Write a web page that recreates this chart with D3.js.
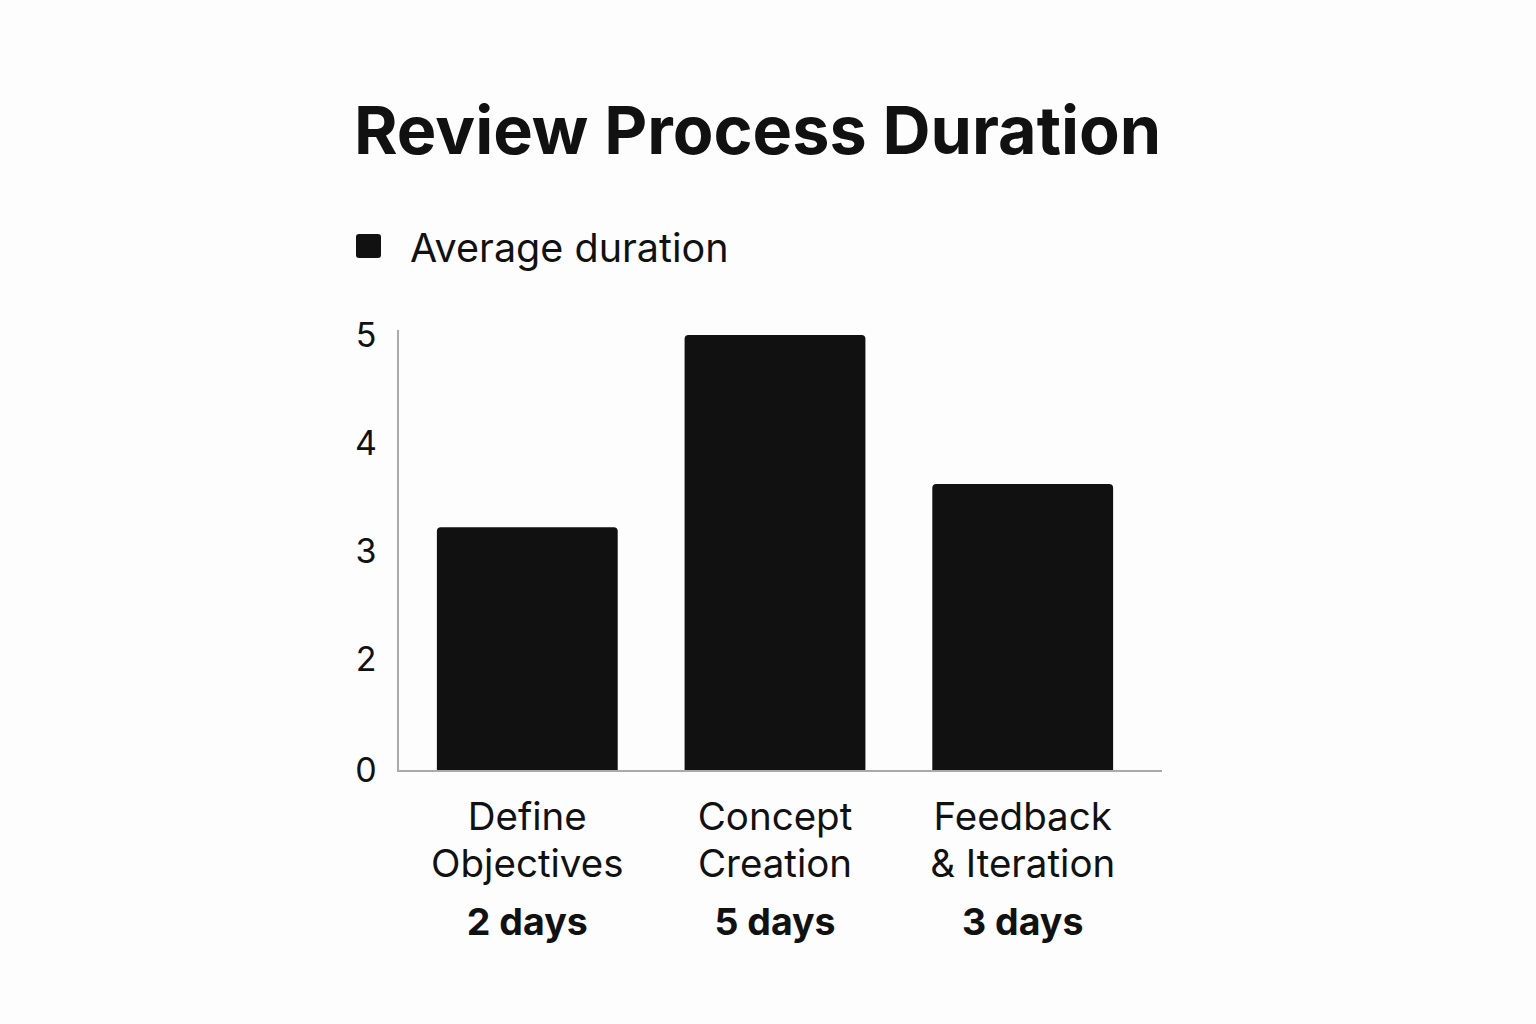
<!DOCTYPE html>
<html><head><meta charset="utf-8">
<script src="https://cdn.jsdelivr.net/npm/d3@7"></script>
<style>body{margin:0;background:#fdfdfd}svg{font-family:Inter,"Noto Sans",sans-serif}</style>
</head><body><svg id="c" width="1536" height="1024"></svg>
<script>
const categories = [["Define","Objectives"],["Concept","Creation"],["Feedback","& Iteration"]];
const values = [3.22, 5, 3.62];
const dayLabels = ["2 days","5 days","3 days"];
const tickValues = [0,2,3,4,5];

const svg = d3.select("#c");
svg.append("rect").attr("width",1536).attr("height",1024).attr("fill","#fdfdfd");
svg.append("text").attr("x",354).attr("y",154).attr("font-size",66.5).attr("font-weight",700)
  .attr("fill","#111").text("Review Process Duration");
svg.append("rect").attr("x",356).attr("y",234).attr("width",25).attr("height",24).attr("rx",3).attr("fill","#111");
svg.append("text").attr("x",410).attr("y",262).attr("font-size",39.5).attr("fill","#111").text("Average duration");

const y = d3.scaleLinear().domain([0,2,5]).range([770,659,335]);
const x = d3.scaleBand().domain(d3.range(3)).range([398,1152]).paddingInner(0.27).paddingOuter(0.157);

svg.selectAll(".bar").data(values).join("path").attr("fill","#111")
  .attr("d",(d,i)=>{const x0=x(i),w=x.bandwidth(),t=y(d),b=y(0),r=4;
    return `M${x0},${b}V${t+r}Q${x0},${t} ${x0+r},${t}H${x0+w-r}Q${x0+w},${t} ${x0+w},${t+r}V${b}Z`;});

svg.append("line").attr("x1",398).attr("x2",398).attr("y1",330).attr("y2",771).attr("stroke","#aaa").attr("stroke-width",2);
svg.append("line").attr("x1",397).attr("x2",1162).attr("y1",771).attr("y2",771).attr("stroke","#aaa").attr("stroke-width",2);

svg.selectAll(".tk").data(tickValues).join("text").attr("x",366).attr("y",d=>y(d)+12)
  .attr("text-anchor","middle").attr("font-size",34).attr("fill","#111").text(d=>d);

categories.forEach((c,i)=>{
  const cx=x(i)+x.bandwidth()/2;
  c.forEach((l,j)=>svg.append("text").attr("x",cx).attr("y",830+j*47).attr("text-anchor","middle")
    .attr("font-size",38.5).attr("fill","#111").text(l));
  svg.append("text").attr("x",cx).attr("y",935).attr("text-anchor","middle").attr("font-size",37.5)
    .attr("font-weight",700).attr("fill","#111").text(dayLabels[i]);
});
</script></body></html>
